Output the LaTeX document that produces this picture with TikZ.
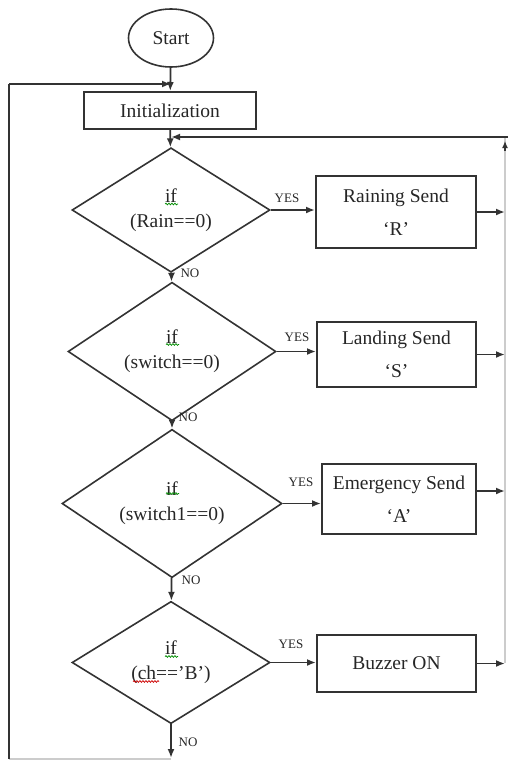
\documentclass[tikz,border=0pt]{standalone}
\usepackage{fontspec}
\setmainfont{Liberation Serif}
\usetikzlibrary{arrows.meta,shapes.geometric,decorations.pathmorphing}
\begin{document}
\begin{tikzpicture}[x=1pt,y=-1pt,
  line/.style={draw=black!80, line width=1.8pt},
  arr/.style={line, -{Latex[length=9pt,width=7pt]}},
  procbox/.style={draw=black!80, line width=2pt, rectangle, inner sep=0pt, align=center, font=\fontsize{19.5}{33}\selectfont, text=black!85},
  decbox/.style={diamond, draw=black!80, line width=1.6pt, inner sep=0pt, align=center, font=\fontsize{19.5}{25}\selectfont, text=black!85},
  termbox/.style={ellipse, draw=black!80, line width=1.6pt, inner sep=0pt, font=\fontsize{19.5}{25}\selectfont, text=black!85},
  lbl/.style={font=\fontsize{13}{13}\selectfont, text=black!85, inner sep=0pt},
  faint/.style={draw=black!20, line width=1.4pt},
  squig/.style={decorate, decoration={snake, amplitude=0.9pt, segment length=3pt}, line width=0.7pt}
]
\useasboundingbox (0,0) rectangle (508,760);

% nodes
\node[termbox, minimum width=85pt, minimum height=58pt] (start) at (171,38) {Start};
\node[procbox, minimum width=172pt, minimum height=37pt, font=\fontsize{19.5}{25}\selectfont] (init) at (170,110.5) {Initialization};

\node[decbox, minimum width=198pt, minimum height=106pt] (d1) at (171,210) {if\\(Rain==0)};
\node[procbox, minimum width=160pt, minimum height=72pt] (b1) at (396,212) {Raining Send\\‘R’};

\node[decbox, minimum width=208pt, minimum height=119pt] (d2) at (172,351.5) {if\\(switch==0)};
\node[procbox, minimum width=159pt, minimum height=65pt] (b2) at (396.5,354.5) {Landing Send\\‘S’};

\node[decbox, minimum width=220pt, minimum height=119pt] (d3) at (172,503.5) {if\\(switch1==0)};
\node[procbox, minimum width=154pt, minimum height=70pt] (b3) at (399,499) {Emergency Send\\‘A’};

\node[decbox, minimum width=198pt, minimum height=119pt] (d4) at (171,662.5) {if\\(ch==’B’)};
\node[procbox, minimum width=159pt, minimum height=57pt, font=\fontsize{19.5}{25}\selectfont] (b4) at (396.5,663.5) {Buzzer ON};

% labels
\node[lbl] (y1) at (287,198) {YES};
\node[lbl] (y2) at (297,337) {YES};
\node[lbl] (y3) at (301,482) {YES};
\node[lbl] (y4) at (291,644) {YES};
\node[lbl] (n1) at (190,273) {NO};
\node[lbl] (n2) at (188,417) {NO};
\node[lbl] (n3) at (191,580) {NO};
\node[lbl] (n4) at (188,742) {NO};

% free ends
\coordinate (lt) at (9,84);
\coordinate (lb) at (9,759);
\coordinate (bot) at (171,759);
\coordinate (rt) at (508,137);
\coordinate (rc) at (505,137);
\coordinate (rb) at (505,663);

% main flow
\draw[arr] (start) -- (init);
\draw[arr] (init) -- (d1);
\draw[arr] (d1) -- (d2);
\draw[arr] (d2) -- (d3);
\draw[arr] (d3) -- (d4);
\draw[arr] (d4.south) -- ([yshift=1pt]bot);

% yes branches
\draw[arr] (d1.east) -- (d1.east -| b1.west);
\draw[arr] (d2.east) -- (d2.east -| b2.west);
\draw[arr] (d3.east) -- (d3.east -| b3.west);
\draw[arr] (d4.east) -- (d4.east -| b4.west);

% to right collector
\draw[arr] (b1.east) -- (b1.east -| rc);
\draw[arr] (b2.east) -- (b2.east -| rc);
\draw[arr] ([yshift=8pt]b3.east) -- ([yshift=8pt]b3.east -| rc);
\draw[arr] (b4.east) -- (b4.east -| rc);

% right return
\draw[faint] (rb) -- (rc);
\draw[draw=black!80, line width=1.2pt, -{Latex[length=7pt,width=6pt]}] ([yshift=-14pt]rc) -- ([yshift=-4pt]rc);
\draw[arr] (rt) -- ([xshift=1pt]rt -| init.south);

% left return
\draw[faint] (bot) -- (lb);
\draw[line] (lb) -- (lt);
\draw[arr] (lt) -- (lt -| start.south);

% spell-check marks
\draw[squig, green!55!black] ([xshift=-6pt,yshift=6pt]d1.center) -- ([xshift=7pt,yshift=6pt]d1.center);
\draw[squig, green!55!black] ([xshift=-6pt,yshift=7pt]d2.center) -- ([xshift=7pt,yshift=7pt]d2.center);
\draw[squig, green!55!black] ([xshift=-6pt,yshift=10pt]d3.center) -- ([xshift=7pt,yshift=10pt]d3.center);
\draw[squig, green!55!black] ([xshift=-6pt,yshift=6pt]d4.center) -- ([xshift=7pt,yshift=6pt]d4.center);
\draw[squig, red!80!black] ([xshift=-38pt,yshift=-19pt]d4.center) -- ([xshift=-12pt,yshift=-19pt]d4.center);
\end{tikzpicture}
\end{document}
